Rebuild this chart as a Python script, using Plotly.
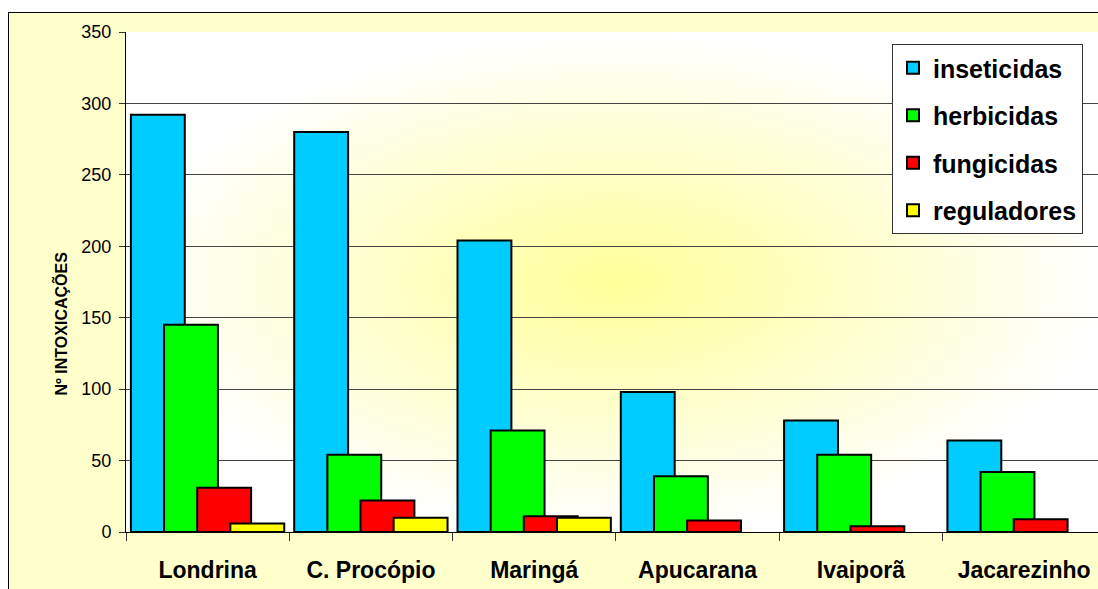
import base64
import plotly.graph_objects as go

# Intoxication counts by region and pesticide class
regioes = ["Londrina", "C. Procópio", "Maringá", "Apucarana", "Ivaiporã", "Jacarezinho"]
inseticidas = [292, 280, 204, 98, 78, 64]
herbicidas = [145, 54, 71, 39, 54, 42]
fungicidas = [31, 22, 11, 8, 4, 9]
reguladores = [6, 10, 10, 0, 0, 0]
y_ticks = [0, 50, 100, 150, 200, 250, 300, 350]

# Figure / plot-area geometry in pixels
FIG_W, FIG_H = 1098, 589
L, T, PW, PH = 126, 32, 972, 500
CAT_PX = 163.3  # width of one category slot


def px_x(p):
    return (p - L) / PW


def px_y(p):
    return (T + PH - p) / PH


series = [
    ("inseticidas", inseticidas, "#00CCFF", -0.47),
    ("herbicidas", herbicidas, "#00FF00", -0.267),
    ("fungicidas", fungicidas, "#FF0000", -0.064),
    ("reguladores", reguladores, "#FFFF00", 0.139),
]

fig = go.Figure()
for i, (name, vals, color, off) in enumerate(series):
    # zero-height bars get no outline so nothing is drawn on the baseline
    outline = [2 if v > 0 else 0 for v in vals]
    fig.add_trace(go.Bar(
        x=regioes, y=vals, name=name,
        offset=off, width=0.33,
        marker=dict(color=color, line=dict(color="#000000", width=outline)),
        legendgroup=f"g{i}",
    ))

# Radial yellow-to-white fill behind the plot area
full_plot_w = 6 * CAT_PX
svg = (
    "<svg xmlns='http://www.w3.org/2000/svg' width='980' height='500' "
    "viewBox='0 0 980 500' preserveAspectRatio='none'>"
    "<defs><radialGradient id='g' cx='0.5' cy='0.5' r='0.5'>"
    "<stop offset='0' stop-color='#FFFF99'/>"
    "<stop offset='1' stop-color='#FFFFFF'/>"
    "</radialGradient></defs>"
    "<rect width='980' height='500' fill='url(#g)'/></svg>"
)
src = "data:image/svg+xml;base64," + base64.b64encode(svg.encode()).decode()

fig.update_layout(
    width=FIG_W, height=FIG_H,
    margin=dict(l=L, r=FIG_W - L - PW, t=T, b=FIG_H - T - PH, pad=0),
    paper_bgcolor="#FFFFCC",
    plot_bgcolor="rgba(0,0,0,0)",
    barmode="overlay",
    font=dict(family="Arial, Liberation Sans, sans-serif", color="#000000"),
    images=[dict(
        source=src, xref="paper", yref="paper",
        x=0, y=1, sizex=full_plot_w / PW, sizey=1,
        xanchor="left", yanchor="top", sizing="stretch", layer="below",
    )],
    xaxis=dict(
        range=[-0.5, -0.5 + PW / CAT_PX],
        showline=True, linecolor="#000000", linewidth=1,
        ticks="outside", tickson="boundaries", ticklen=8,
        tickcolor="#333333", tickwidth=1,
        tickfont=dict(size=23, family="Arial, Liberation Sans, sans-serif", weight="bold"),
        ticklabelstandoff=17,
        showgrid=False, fixedrange=True,
    ),
    yaxis=dict(
        range=[0, 350], tickvals=y_ticks,
        showline=True, linecolor="#000000", linewidth=1,
        ticks="outside", ticklen=6, tickcolor="#333333",
        tickfont=dict(size=18),
        ticklabelstandoff=4,
        showgrid=True, gridcolor="#444444", gridwidth=1,
        zeroline=False, fixedrange=True,
    ),
    legend=dict(
        x=px_x(892), y=px_y(44), xanchor="left", yanchor="top",
        bgcolor="#FFFFFF", bordercolor="#333333", borderwidth=1,
        font=dict(size=25, family="Arial, Liberation Sans, sans-serif", weight="bold"),
        traceorder="grouped", tracegroupgap=12,
    ),
    showlegend=True,
)

# Outer chart frame: white surround, black top/left edges
fig.add_shape(type="rect", xref="paper", yref="paper",
              x0=px_x(0), x1=px_x(FIG_W + 5), y0=px_y(0), y1=px_y(12),
              fillcolor="#FFFFFF", line=dict(width=0), layer="below")
fig.add_shape(type="rect", xref="paper", yref="paper",
              x0=px_x(0), x1=px_x(8), y0=px_y(0), y1=px_y(FIG_H + 5),
              fillcolor="#FFFFFF", line=dict(width=0), layer="below")
fig.add_shape(type="line", xref="paper", yref="paper",
              x0=px_x(8), x1=px_x(FIG_W + 5), y0=px_y(12.5), y1=px_y(12.5),
              line=dict(color="#000000", width=1), layer="below")
fig.add_shape(type="line", xref="paper", yref="paper",
              x0=px_x(8.5), x1=px_x(8.5), y0=px_y(12), y1=px_y(FIG_H + 5),
              line=dict(color="#000000", width=1), layer="below")

# Y axis title
fig.add_annotation(
    text="Nº INTOXICAÇÕES", xref="paper", yref="paper",
    x=px_x(48), y=px_y(324), showarrow=False, textangle=-90,
    font=dict(size=16, family="Arial, Liberation Sans, sans-serif", weight="bold"),
)

fig.write_html("out.html", config=dict(displayModeBar=False))
